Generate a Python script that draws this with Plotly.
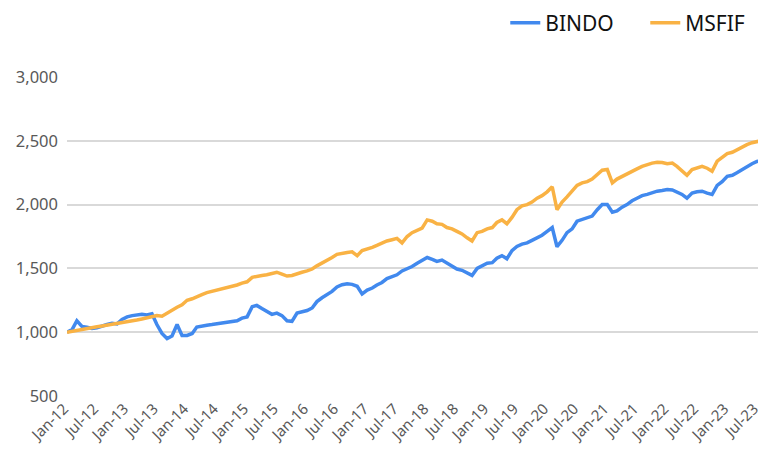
import pandas as pd
import plotly.graph_objects as go

months = pd.date_range("2012-01-01", "2023-08-01", freq="MS")

bindo = [
    # 2012
    1000, 1020, 1090, 1045, 1040, 1030, 1035, 1050, 1060, 1070, 1065, 1100,
    # 2013
    1120, 1130, 1135, 1140, 1135, 1145, 1060, 990, 950, 970, 1060, 975,
    # 2014
    975, 990, 1040, 1050, 1055, 1060, 1065, 1070, 1075, 1080, 1090, 1110,
    # 2015
    1120, 1200, 1210, 1185, 1160, 1140, 1150, 1130, 1090, 1085, 1150, 1160,
    # 2016
    1170, 1190, 1240, 1270, 1295, 1320, 1355, 1372, 1380, 1375, 1360, 1300,
    # 2017
    1330, 1346, 1370, 1390, 1420, 1435, 1450, 1480, 1495, 1515, 1540, 1560,
    # 2018
    1585, 1570, 1555, 1565, 1540, 1520, 1495, 1485, 1465, 1445, 1500, 1520,
    # 2019
    1540, 1545, 1580, 1600, 1575, 1640, 1672, 1690, 1700, 1720, 1740, 1760,
    # 2020
    1790, 1820, 1670, 1720, 1780, 1810, 1870, 1885, 1900, 1910, 1960, 2000,
    # 2021
    2000, 1940, 1950, 1980, 2000, 2030, 2050, 2070, 2080, 2095, 2105, 2110,
    # 2022
    2118, 2115, 2100, 2080, 2050, 2090, 2100, 2105, 2090, 2079, 2150, 2180,
    # 2023
    2222, 2230, 2250, 2275, 2300, 2320, 2338, 2348,
]

msfif = [
    # 2012
    1000, 1008, 1015, 1022, 1030, 1036, 1042, 1048, 1054, 1060, 1066, 1072,
    # 2013
    1080, 1088, 1096, 1104, 1112, 1120, 1130, 1125, 1150, 1175, 1195, 1215,
    # 2014
    1250, 1262, 1280, 1295, 1310, 1320, 1330, 1340, 1350, 1358, 1370, 1385,
    # 2015
    1395, 1430, 1440, 1445, 1450, 1460, 1470, 1455, 1440, 1445, 1460, 1470,
    # 2016
    1480, 1495, 1520, 1540, 1565, 1585, 1610, 1620, 1625, 1630, 1600, 1640,
    # 2017
    1650, 1665, 1680, 1700, 1715, 1725, 1735, 1700, 1750, 1780, 1800, 1815,
    # 2018
    1880, 1870, 1850, 1845, 1820, 1810, 1790, 1770, 1740, 1715, 1780, 1790,
    # 2019
    1810, 1820, 1860, 1880, 1850, 1900, 1960, 1990, 2000, 2020, 2050, 2070,
    # 2020
    2100, 2140, 1960, 2020, 2060, 2110, 2150, 2170, 2180, 2200, 2240, 2270,
    # 2021
    2275, 2170, 2200, 2222, 2240, 2262, 2280, 2300, 2315, 2325, 2332, 2330,
    # 2022
    2320, 2325, 2300, 2260, 2230, 2275, 2290, 2300, 2285, 2262, 2340, 2370,
    # 2023
    2400, 2410, 2430, 2450, 2470, 2485, 2497, 2503,
]

series_names = ["BINDO", "MSFIF"]
series_colors = ["#4189ee", "#f9b244"]
y_ticks = [500, 1000, 1500, 2000, 2500, 3000]

fig = go.Figure()
for name, vals, col in zip(series_names, [bindo, msfif], series_colors):
    fig.add_trace(go.Scatter(
        x=months, y=vals, mode="lines", name=name,
        line=dict(color=col, width=3.5),
    ))

# the page body has an 8px default margin, so the figure is sized 758x449
fig.update_layout(
    width=758, height=449,
    margin=dict(l=59, r=0, t=69, b=61, autoexpand=False),
    paper_bgcolor="white", plot_bgcolor="white",
    font=dict(family="Noto Sans, Open Sans, sans-serif", color="#595959"),
    showlegend=True,
    legend=dict(
        orientation="h", x=0.627, xanchor="left", y=1.169, yanchor="middle",
        font=dict(size=21, color="#111111"),
        bgcolor="rgba(0,0,0,0)",
        entrywidth=95, entrywidthmode="pixels",
    ),
    xaxis=dict(
        type="date",
        range=[months[0], pd.Timestamp("2023-08-25")],
        tick0="2012-01-01", dtick="M6", tickformat="%b-%y",
        tickangle=-45, tickfont=dict(size=15, color="#595959"),
        ticklabeloverflow="allow", ticklabelshift=-3,
        showgrid=False, zeroline=False, showline=False, ticks="",
        automargin=False,
    ),
    yaxis=dict(
        range=[500, 3000], tickvals=y_ticks, tickformat=",d",
        tickfont=dict(size=16.5, color="#595959"),
        showgrid=True, gridcolor="#d9d9d9", gridwidth=2,
        zeroline=False, showline=False, ticks="", ticklabelstandoff=8,
        automargin=False,
    ),
)

fig.write_html("out.html")
